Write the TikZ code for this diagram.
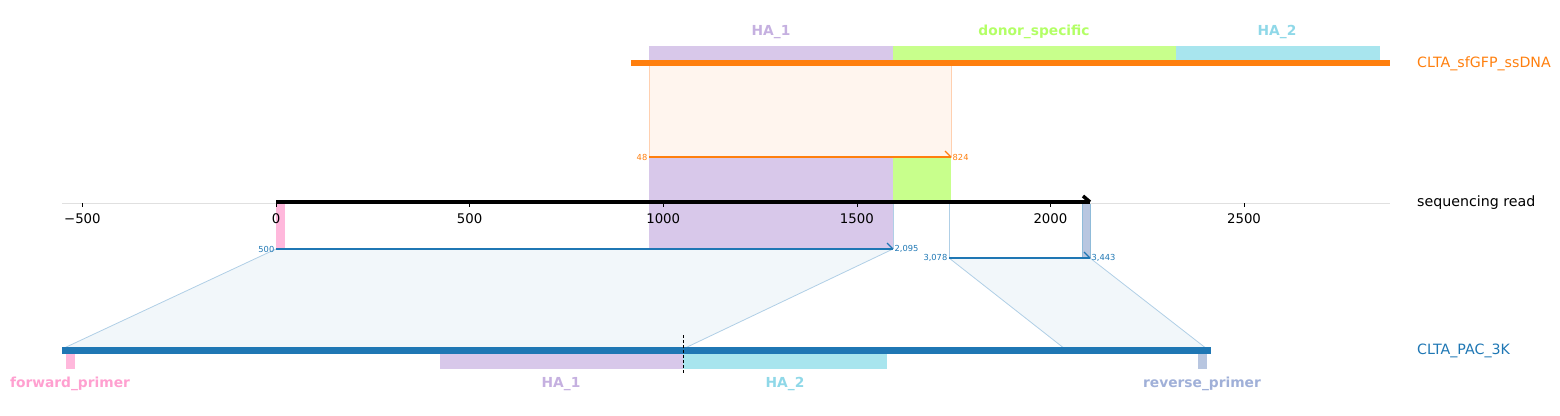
\documentclass[tikz,border=0pt]{standalone}
\usepackage{fontspec}
\setmainfont{DejaVu Sans}
\begin{document}
\begin{tikzpicture}[x=1pt,y=-1pt,
  ticklab/.style={font=\fontsize{13.3}{15}\selectfont, text=black, inner sep=0pt},
  featlab/.style={font=\fontsize{13.8}{16}\selectfont\bfseries, inner sep=0pt},
  seqlab/.style={font=\fontsize{14.2}{16}\selectfont, inner sep=0pt, anchor=west},
  numlab/.style={font=\fontsize{8.3}{9}\selectfont, inner sep=1.5pt},
  featbox/.style={draw=none, inner sep=0pt, outer sep=0pt},
  mapedge/.style={draw=mapline, line width=0.8pt},
]
\definecolor{orng}{HTML}{FF7F0E}
\definecolor{tblue}{HTML}{1F77B4}
\definecolor{hafill}{HTML}{D8C8EA}
\definecolor{halab}{HTML}{C5B0E0}
\definecolor{dsfill}{HTML}{C8FF8C}
\definecolor{dslab}{HTML}{B3FF66}
\definecolor{hbfill}{HTML}{A8E5EE}
\definecolor{hblab}{HTML}{8FD8E8}
\definecolor{pkfill}{HTML}{FFB8DC}
\definecolor{pklab}{HTML}{FFA0D0}
\definecolor{rvfill}{HTML}{B8C6E0}
\definecolor{rvlab}{HTML}{A0B0D8}
\definecolor{mapline}{HTML}{B0CFE6}
\definecolor{mapfill}{HTML}{F2F7FA}
\definecolor{orfill}{HTML}{FFF5EE}
\definecolor{oredge}{HTML}{FFD0B0}
\useasboundingbox (0,0) rectangle (1560,415);

% ---------- top construct ----------
\node[featbox, fill=orfill, draw=oredge, line width=0.8pt, minimum width=302pt, minimum height=94pt, anchor=north west] (donorwin) at (649,63) {};
\node[featbox, fill=hafill, minimum width=244pt, minimum height=16pt, anchor=north west] (topha1) at (649,46) {};
\node[featbox, fill=dsfill, minimum width=283pt, minimum height=16pt, anchor=north west] (topds) at (893,46) {};
\node[featbox, fill=hbfill, minimum width=204pt, minimum height=16pt, anchor=north west] (topha2) at (1176,46) {};
\coordinate (ssL) at (631,63);
\coordinate (ssR) at (1390,63);
\draw[orng, line width=6pt] (ssL) -- (ssR);
\node[featlab, text=halab] (lha1) at (771,32) {HA\_1};
\node[featlab, text=dslab] (lds) at (1034,32) {donor\_specific};
\node[featlab, text=hblab] (lha2) at (1277,32) {HA\_2};
\node[seqlab, text=orng] (lss) at (1417,63.5) {CLTA\_sfGFP\_ssDNA};

% ---------- mapping polygons ----------
\coordinate (p1a) at (276,249);
\coordinate (p1b) at (893,249);
\coordinate (p1c) at (683,349);
\coordinate (p1d) at (62,349);
\fill[mapfill] (p1a) -- (p1b) -- (p1c) -- (p1d) -- cycle;
\draw[mapedge] (p1a) -- (p1d);
\draw[mapedge] (p1b) -- (p1c);
\coordinate (p2a) at (949,258);
\coordinate (p2b) at (1090,258);
\coordinate (p2c) at (1207,349);
\coordinate (p2d) at (1065,349);
\fill[mapfill] (p2a) -- (p2b) -- (p2c) -- (p2d) -- cycle;
\draw[mapedge] (p2a) -- (p2d);
\draw[mapedge] (p2b) -- (p2c);

% ---------- read-level features ----------
\node[featbox, fill=hafill, minimum width=244pt, minimum height=92pt, anchor=north west] (rdha1) at (649,157) {};
\node[featbox, fill=dsfill, minimum width=58pt, minimum height=46pt, anchor=north west] (rdds) at (893,157) {};
\node[featbox, fill=pkfill, minimum width=9pt, minimum height=46pt, anchor=north west] (rdfw) at (276,203) {};
\node[featbox, fill=rvfill, draw=tblue!50, line width=0.5pt, minimum width=8pt, minimum height=55pt, anchor=north west] (rdrv) at (1082,203) {};
\coordinate (v1t) at (893,203);
\coordinate (v1b) at (893,249);
\draw[mapline, line width=0.8pt] (v1t) -- (v1b);
\coordinate (v2t) at (949,203);
\coordinate (v2b) at (949,258);
\draw[mapline, line width=0.8pt] (v2t) -- (v2b);

% ---------- axis ----------
\coordinate (axL) at (62,203);
\coordinate (axR) at (1390,203);
\draw[black!12, line width=0.8pt] (axL) -- (axR);
\foreach \v/\lab in {-500/−500,0/0,500/500,1000/1000,1500/1500,2000/2000,2500/2500}{
  \pgfmathsetmacro{\px}{276+0.3872*\v}
  \draw[black, line width=0.6pt] (\px,203) -- (\px,207);
  \node[ticklab, anchor=north] (tick\v) at (\px,213.5) {\lab};
}
\coordinate (rdL) at (276,202);
\coordinate (rdR) at (1090,202);
\draw[black, line width=4pt] (rdL) -- (rdR);
\coordinate (rdB) at (1083,196);
\draw[black, line width=3.5pt] (rdB) -- (rdR);
\node[seqlab, text=black] (lrd) at (1417,202.5) {sequencing read};

% ---------- alignment lines ----------
\coordinate (o1) at (649,157);
\coordinate (o2) at (951,157);
\coordinate (o2b) at (945,151);
\draw[orng, line width=1.5pt] (o1) -- (o2);
\draw[orng, line width=1.3pt] (o2b) -- (o2);
\node[numlab, text=orng, anchor=east] (n48) at (o1) {48};
\node[numlab, text=orng, anchor=west] (n824) at (o2) {824};

\coordinate (b1L) at (276,249);
\coordinate (b1R) at (893,249);
\coordinate (b1B) at (887,243);
\draw[tblue, line width=1.5pt] (b1L) -- (b1R);
\draw[tblue, line width=1.3pt] (b1B) -- (b1R);
\node[numlab, text=tblue, anchor=east] (n500) at (b1L) {500};
\node[numlab, text=tblue, anchor=west] (n2095) at (b1R) {2,095};

\coordinate (b2L) at (949,258);
\coordinate (b2R) at (1090,258);
\coordinate (b2B) at (1084,252);
\draw[tblue, line width=1.5pt] (b2L) -- (b2R);
\draw[tblue, line width=1.3pt] (b2B) -- (b2R);
\node[numlab, text=tblue, anchor=east] (n3078) at (b2L) {3,078};
\node[numlab, text=tblue, anchor=west] (n3443) at (b2R) {3,443};

% ---------- bottom construct ----------
\node[featbox, fill=pkfill, minimum width=9pt, minimum height=16pt, anchor=north west] (btfw) at (66,353) {};
\node[featbox, fill=hafill, minimum width=243pt, minimum height=16pt, anchor=north west] (btha1) at (440,353) {};
\node[featbox, fill=hbfill, minimum width=204pt, minimum height=16pt, anchor=north west] (btha2) at (683,353) {};
\node[featbox, fill=rvfill, minimum width=9pt, minimum height=16pt, anchor=north west] (btrv) at (1198,353) {};
\coordinate (paL) at (62,350);
\coordinate (paR) at (1211,350);
\draw[tblue, line width=7pt] (paL) -- (paR);
\coordinate (cutT) at (683,335);
\coordinate (cutB) at (683,374);
\draw[black, line width=1pt, dash pattern=on 3pt off 2pt] (cutT) -- (cutB);
\node[featlab, text=pklab] (lfw) at (70,384) {forward\_primer};
\node[featlab, text=halab] (lbha1) at (561,384) {HA\_1};
\node[featlab, text=hblab] (lbha2) at (785,384) {HA\_2};
\node[featlab, text=rvlab] (lrv) at (1202,384) {reverse\_primer};
\node[seqlab, text=tblue] (lpac) at (1417,350.5) {CLTA\_PAC\_3K};
\end{tikzpicture}
\end{document}
